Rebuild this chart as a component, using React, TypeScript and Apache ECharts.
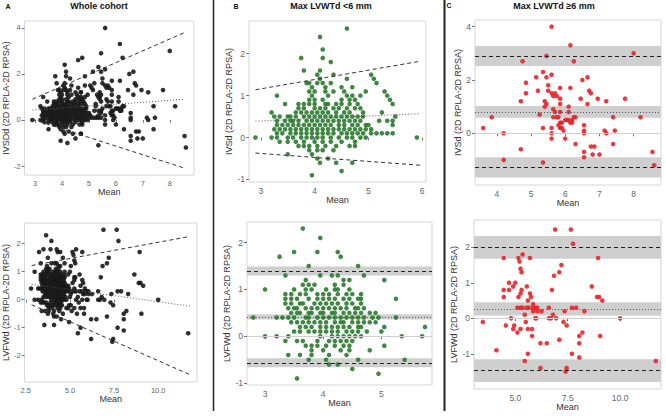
import React, { useEffect, useRef } from "react";
import * as echarts from "echarts";

type Row = [number, number[]];
type Pt = [number, number];

// Max LVWTd <6 mm : IVSd difference, rows of [difference, means...]
const bIVSdRows: Row[] = [
  [2.6, [4.6]],
  [2.4, [4.1]],
  [2.1, [4.15]],
  [1.9, [3.75, 4.15]],
  [1.8, [4.3]],
  [1.6, [3.8, 4.1]],
  [1.5, [4.05, 4.35, 5.05]],
  [1.4, [4.1, 4.6, 5.1]],
  [1.3, [3.85, 3.9, 4.05, 4.15, 4.3, 5.15]],
  [1.2, [3.95, 4.2, 4.5, 4.7]],
  [1.1, [3.9, 4.0, 4.2, 4.35, 4.55, 4.95, 5.3]],
  [1.0, [3.3, 3.95, 4.25, 4.6, 4.7, 4.85, 5.35]],
  [0.9, [3.9, 4.0, 4.15, 4.5, 4.65, 4.75, 5.4]],
  [0.8, [3.45, 3.7, 3.8, 3.9, 4.0, 4.2, 4.25, 4.4, 4.5, 4.65, 4.8, 5.45]],
  [0.7, [3.7, 3.8, 4.0, 4.1, 4.2, 4.35, 4.45, 4.6, 4.75, 4.85]],
  [0.6, [3.2, 3.65, 3.75, 3.85, 3.95, 4.05, 4.15, 4.25, 4.4, 4.55, 4.65, 4.9, 5.25]],
  [0.5, [3.25, 3.35, 3.5, 3.55, 3.65, 3.8, 3.9, 4.0, 4.1, 4.2, 4.3, 4.4, 4.5, 4.6, 4.7, 4.8, 4.9, 5.5]],
  [0.4, [3.3, 3.45, 3.55, 3.6, 3.7, 3.85, 3.95, 4.05, 4.15, 4.25, 4.35, 4.45, 4.55, 4.65, 4.75, 4.85, 5.2, 5.35, 5.45]],
  [0.3, [3.3, 3.4, 3.5, 3.6, 3.7, 3.8, 3.9, 4.0, 4.1, 4.2, 4.3, 4.45, 4.55, 4.7, 4.8, 4.95, 5.0, 5.45]],
  [0.2, [3.25, 3.35, 3.45, 3.55, 3.65, 3.75, 3.85, 3.95, 4.05, 4.15, 4.25, 4.35, 4.45, 4.55, 4.65, 4.75, 4.85, 4.95, 5.05]],
  [0.1, [3.3, 3.4, 3.55, 3.65, 3.75, 3.85, 3.95, 4.05, 4.15, 4.25, 4.35, 4.5, 4.6, 4.7, 4.8, 4.9, 5.05, 5.15, 5.25, 5.35, 5.45]],
  [0.0, [2.9, 3.2, 3.3, 3.5, 3.6, 3.75, 3.85, 3.95, 4.05, 4.15, 4.3, 4.45, 4.6, 4.7, 4.85, 4.95, 5.9]],
  [-0.1, [3.35, 3.5, 3.65, 3.8, 4.0, 4.15, 4.3, 4.5, 4.75]],
  [-0.2, [3.7, 3.8, 3.9, 4.05, 4.2, 4.4, 4.65, 4.75]],
  [-0.3, [3.9, 4.05, 4.15, 4.35]],
  [-0.4, [3.5, 3.95]],
  [-0.5, [4.05, 4.25]],
  [-0.6, [4.1, 4.4, 4.7]],
  [-0.8, [4.5]],
  [-0.9, [3.95]],
];

// Max LVWTd <6 mm : LVFWd difference
const bLVFWdRows: Row[] = [
  [2.3, [3.65]],
  [2.1, [3.95]],
  [1.8, [3.5, 3.9, 4.25]],
  [1.7, [3.25, 4.3]],
  [1.5, [3.75, 4.6]],
  [1.3, [3.35, 3.95, 4.15, 4.25, 4.7]],
  [1.2, [3.7, 4.35, 4.45, 5.05]],
  [1.1, [3.65, 3.75, 3.85, 4.2, 4.35]],
  [1.0, [3.0, 3.5, 3.7, 3.8, 4.05, 4.2, 4.25, 4.45]],
  [0.9, [3.35, 3.45, 3.6, 3.7, 3.9, 4.0, 4.1, 4.25, 4.4, 4.5, 4.65]],
  [0.8, [3.35, 3.45, 3.55, 3.75, 3.9, 4.0, 4.1, 4.2, 4.35, 4.45, 4.6, 4.65, 5.25]],
  [0.7, [3.35, 3.45, 3.6, 3.65, 3.85, 3.95, 4.05, 4.15, 4.25, 4.4, 4.5, 4.65]],
  [0.6, [3.4, 3.5, 3.55, 3.7, 3.8, 3.9, 4.0, 4.1, 4.2, 4.3, 4.4, 4.55, 4.6, 4.7]],
  [0.5, [3.45, 3.55, 3.6, 3.75, 3.8, 3.95, 4.0, 4.15, 4.2, 4.35, 4.45, 4.55, 4.65, 4.8, 4.9]],
  [0.4, [2.8, 3.2, 3.3, 3.4, 3.5, 3.7, 3.75, 3.9, 4.0, 4.1, 4.2, 4.3, 4.4, 4.5, 4.6, 4.7, 4.85, 4.95, 5.25]],
  [0.3, [3.45, 3.55, 3.65, 3.75, 3.85, 3.95, 4.05, 4.2, 4.3, 4.35, 4.5, 4.6, 4.7, 4.8, 4.9]],
  [0.2, [3.6, 3.7, 3.8, 3.95, 4.05, 4.15, 4.25, 4.35, 4.45, 4.6, 4.65, 5.05, 5.75]],
  [0.1, [3.5, 3.6, 3.75, 3.85, 3.95, 4.05, 4.15, 4.25, 4.4, 4.5, 4.6, 4.75, 5.0]],
  [0.0, [3.0, 3.2, 3.4, 3.95, 4.15, 4.25, 4.35, 4.45, 4.55, 4.65, 5.35, 5.7]],
  [-0.1, [3.35, 3.55, 3.65, 3.9, 4.1, 4.2, 4.3, 4.4, 4.5]],
  [-0.2, [3.7, 3.8, 3.9, 4.05, 4.2, 4.35, 4.45, 5.05]],
  [-0.3, [3.8, 4.0, 4.3, 4.45, 4.8]],
  [-0.4, [3.4, 3.6, 3.8, 4.1, 4.4]],
  [-0.5, [3.75, 4.05, 4.6, 5.4]],
  [-0.6, [4.1, 4.25]],
  [-0.7, [4.5]],
  [-0.8, [4.95]],
  [-0.9, [3.55]],
];

// Max LVWTd >=6 mm : IVSd [mean, difference]
const cIVSd: Pt[] = [
  [5.6, 4.0], [6.15, 3.3], [8.0, 3.0], [5.45, 2.9], [4.75, 2.7], [6.25, 2.7],
  [5.35, 2.3], [5.45, 2.1], [5.6, 2.2], [5.15, 2.1], [6.5, 2.0], [6.65, 2.1],
  [4.85, 1.9], [5.5, 1.8], [5.2, 1.6], [5.5, 1.6], [4.85, 1.5], [5.85, 1.7],
  [6.15, 1.7], [5.65, 1.4], [5.7, 1.5], [5.75, 1.4], [5.6, 1.5], [6.7, 1.6],
  [6.75, 1.5], [5.85, 1.3], [5.4, 1.2], [5.45, 1.1], [5.4, 1.0], [4.7, 1.2],
  [6.45, 1.3], [6.95, 1.3], [7.2, 1.2], [7.75, 1.3], [6.65, 1.1], [5.85, 1.1],
  [6.1, 1.0], [5.65, 0.9], [5.7, 0.8], [5.85, 0.8], [6.1, 0.8], [5.25, 0.7],
  [3.85, 0.6], [5.8, 0.6], [5.75, 0.6], [5.65, 0.6], [7.4, 0.6], [8.2, 0.6],
  [6.0, 0.5], [6.05, 0.5], [6.1, 0.5], [6.2, 0.5], [6.25, 0.6], [6.3, 0.6],
  [5.85, 0.4], [5.9, 0.4], [6.15, 0.4], [6.2, 0.4], [5.8, 0.3], [5.85, 0.2],
  [5.9, 0.2], [5.95, 0.1], [3.6, 0.2], [5.35, 0.2], [5.6, 0.2], [7.15, 0.1],
  [7.45, 0.1], [7.2, 0.0], [4.2, 0.0], [5.6, 0.0], [5.6, -0.2], [6.0, -0.2],
  [6.55, 0.0], [6.55, 0.1], [6.55, 0.3], [6.3, -0.4], [7.4, -0.4], [4.7, -0.6],
  [6.75, -0.5], [6.85, -0.5], [6.55, -0.7], [7.0, -0.8], [6.8, -0.8], [8.55, -0.7],
  [6.55, -0.9], [4.2, -1.0], [5.35, -1.1], [8.6, -1.2],
];

// Max LVWTd >=6 mm : LVFWd [mean, difference]
const cLVFWd: Pt[] = [
  [6.9, 2.5], [7.65, 2.5], [7.75, 2.1], [4.45, 1.7], [5.35, 1.8], [5.15, 1.7],
  [5.2, 1.6], [5.7, 1.7], [8.95, 1.7], [7.2, 1.5], [5.25, 1.4], [5.3, 1.3],
  [7.1, 1.3], [6.85, 1.2], [4.7, 1.0], [5.0, 1.0], [5.55, 0.9], [4.9, 0.9],
  [8.65, 0.9], [4.45, 0.8], [4.7, 0.8], [5.3, 0.8], [6.75, 0.8], [5.25, 0.7],
  [5.7, 0.7], [5.75, 0.6], [4.45, 0.6], [5.15, 0.6], [8.9, 0.6], [9.0, 0.6],
  [9.15, 0.5], [5.6, 0.5], [5.85, 0.4], [5.1, 0.3], [5.25, 0.3], [5.35, 0.3],
  [5.55, 0.3], [5.65, 0.3], [5.85, 0.3], [5.95, 0.3], [6.05, 0.3], [6.6, 0.3],
  [7.7, 0.3], [7.9, 0.3], [5.45, 0.1], [6.8, 0.1], [7.35, 0.2], [8.3, 0.2],
  [5.85, 0.2], [6.25, 0.2], [6.05, 0.2], [4.8, 0.0], [5.95, 0.0], [6.0, 0.0],
  [6.6, 0.0], [6.7, 0.0], [6.95, 0.0], [10.0, 0.0], [3.45, -0.1], [5.5, -0.1],
  [7.3, -0.1], [4.55, -0.2], [7.45, -0.2], [4.95, -0.2], [4.9, -0.3], [5.25, -0.3],
  [5.6, -0.3], [5.8, -0.3], [5.1, -0.4], [8.2, -0.4], [5.8, -0.5], [8.05, -0.5],
  [9.05, -0.5], [7.1, -0.6], [6.2, -0.7], [6.5, -0.7], [8.05, -0.7], [4.1, -0.9],
  [5.6, -1.0], [7.7, -1.0], [8.05, -1.1], [5.45, -1.2], [11.7, -1.2], [6.2, -1.4],
  [7.45, -1.4], [7.4, -1.5],
];

// Regression-based limits of agreement (endpoints): upper, mean, lower
const aIVSdUpper: Pt[] = [[2.9, 0.9], [8.57, 3.81]];
const aIVSdMean: Pt[] = [[2.9, 0.43], [8.57, 0.9]];
const aIVSdLower: Pt[] = [[2.9, 0.03], [8.57, -2.1]];
const aLVFWdUpper: Pt[] = [[2.83, 1.22], [11.8, 2.26]];
const aLVFWdMean: Pt[] = [[2.83, 0.55], [11.8, -0.23]];
const aLVFWdLower: Pt[] = [[2.83, -0.18], [11.8, -2.68]];
const bIVSdUpper: Pt[] = [[2.9, 1.14], [5.96, 1.82]];
const bIVSdMean: Pt[] = [[2.9, 0.39], [5.96, 0.57]];
const bIVSdLower: Pt[] = [[2.9, -0.37], [5.96, -0.66]];

// Constant limits of agreement: [line, ciLow, ciHigh] for upper, mean, lower
const bLVFWdLimits: [number, number, number][] = [[1.39, 1.3, 1.49], [0.41, 0.36, 0.47], [-0.57, -0.66, -0.47]];
const cIVSdLimits: [number, number, number][] = [[2.9, 2.52, 3.27], [0.8, 0.58, 1.02], [-1.27, -1.66, -0.9]];
const cLVFWdLimits: [number, number, number][] = [[2.0, 1.68, 2.32], [0.27, 0.08, 0.45], [-1.47, -1.79, -1.15]];

const xTicksA1 = [3, 4, 5, 6, 7, 8];
const xTicksA2 = [2.5, 5, 7.5, 10];
const xTicksB = [3, 4, 5, 6];
const xTicksB2 = [3, 4, 5];
const xTicksC1 = [4, 5, 6, 7, 8];
const xTicksC2 = [5, 7.5, 10];
const yTicksA1 = [-2, 0, 2, 4];
const yTicksA2 = [-2, -1, 0, 1, 2];
const yTicksB1 = [-1, 0, 1, 2];
const yTicksB2 = [-1, 0, 1, 2];
const yTicksC1 = [0, 2, 4];
const yTicksC2 = [-1, 0, 1, 2];

const rowsToPoints = (rows: Row[]): Pt[] =>
  rows.flatMap(([y, xs]) => xs.map((x) => [x, y] as Pt));

const bIVSd = rowsToPoints(bIVSdRows);
const bLVFWd = rowsToPoints(bLVFWdRows);
const aIVSd = [...bIVSd, ...cIVSd];
const aLVFWd = [...bLVFWd, ...cLVFWd];

const FONT = "Liberation Sans, Arial, sans-serif";

export default function App() {
  const ref = useRef<HTMLDivElement>(null);
  useEffect(() => {
    document.body.style.margin = "0";
    if (!ref.current) return;
    const chart = echarts.init(ref.current, undefined, { renderer: "svg" });

    const panels = [
      {
        grid: { left: 22, top: 21, width: 172, height: 154 },
        x: [2.61, 8.9], y: [-2.39, 4.3], xt: xTicksA1, yt: yTicksA1, dec: 0,
        yName: "IVSDd (2D RPLA-2D RPSA)", data: aIVSd, color: "#1a1a1a",
        reg: [aIVSdUpper, aIVSdMean, aIVSdLower], lim: null, zero: false, fs: 7.5,
      },
      {
        grid: { left: 21, top: 223, width: 176, height: 159 },
        x: [2.43, 12.2], y: [-2.94, 2.74], xt: xTicksA2, yt: yTicksA2, dec: 1,
        yName: "LVFWd (2D RPLA-2D RPSA)", data: aLVFWd, color: "#1a1a1a",
        reg: [aLVFWdUpper, aLVFWdMean, aLVFWdLower], lim: null, zero: false, fs: 7.5,
      },
      {
        grid: { left: 249, top: 21, width: 177, height: 161 },
        x: [2.78, 6.07], y: [-1.06, 2.78], xt: xTicksB, yt: yTicksB1, dec: 0,
        yName: "IVSd (2D RPLA-2D RPSA)", data: bIVSd, color: "#2a7a2e",
        reg: [bIVSdUpper, bIVSdMean, bIVSdLower], lim: null, zero: false, fs: 8.5,
      },
      {
        grid: { left: 247, top: 222, width: 185, height: 163 },
        x: [2.69, 5.87], y: [-1.04, 2.44], xt: xTicksB2, yt: yTicksB2, dec: 0,
        yName: "LVFWd (2D RPLA-2D RPSA)", data: bLVFWd, color: "#2a7a2e",
        reg: null, lim: bLVFWdLimits, zero: true, fs: 8.5,
      },
      {
        grid: { left: 475, top: 20, width: 186, height: 165 },
        x: [3.36, 8.8], y: [-1.94, 4.25], xt: xTicksC1, yt: yTicksC1, dec: 0,
        yName: "IVSd (2D RPLA-2D RPSA)", data: cIVSd, color: "#e4262b",
        reg: null, lim: cIVSdLimits, zero: true, fs: 8.5,
      },
      {
        grid: { left: 474, top: 220, width: 187, height: 169 },
        x: [3.03, 11.95], y: [-1.99, 2.77], xt: xTicksC2, yt: yTicksC2, dec: 1,
        yName: "LVFWd (2D RPLA-2D RPSA)", data: cLVFWd, color: "#e4262b",
        reg: null, lim: cLVFWdLimits, zero: true, fs: 8.5,
      },
    ];

    const grid: any[] = [];
    const xAxis: any[] = [];
    const yAxis: any[] = [];
    const series: any[] = [];

    panels.forEach((p, i) => {
      grid.push({ ...p.grid, show: true, borderColor: "#d6d6d6", borderWidth: 1, backgroundColor: "#fff" });
      const common = {
        gridIndex: i,
        type: "value",
        splitLine: { show: false },
        axisLine: { show: false },
        axisTick: { show: true, length: 3, lineStyle: { color: "#555", width: 0.8 } },
      };
      xAxis.push({
        ...common,
        min: p.x[0], max: p.x[1],
        axisTick: { ...common.axisTick, customValues: p.xt },
        axisLabel: {
          customValues: p.xt, fontSize: p.fs, color: "#666", margin: 4, fontFamily: FONT,
          formatter: (v: number) => (p.dec ? v.toFixed(1) : String(v)),
        },
        name: "Mean", nameLocation: "middle", nameGap: 10,
        nameTextStyle: { fontSize: 9, color: "#333", fontFamily: FONT },
      });
      yAxis.push({
        ...common,
        min: p.y[0], max: p.y[1],
        axisTick: { ...common.axisTick, customValues: p.yt },
        axisLabel: { customValues: p.yt, fontSize: p.fs, color: "#666", margin: 4, fontFamily: FONT },
        name: p.yName, nameLocation: "middle", nameGap: 11,
        nameTextStyle: { fontSize: 9, color: "#333", fontFamily: FONT },
      });

      if (p.lim || p.zero) {
        const markLineData: any[] = [];
        if (p.zero) markLineData.push({ yAxis: 0, lineStyle: { color: "#d0d0d0", width: 1, type: "solid" } });
        if (p.lim) {
          p.lim.forEach((l, k) => {
            markLineData.push({
              yAxis: l[0],
              lineStyle: k === 1
                ? { color: "#555", width: 1, type: [1, 2] }
                : { color: "#222", width: 1, type: [4, 3] },
            });
          });
        }
        series.push({
          type: "line",
          xAxisIndex: i, yAxisIndex: i,
          data: [],
          z: 1,
          silent: true,
          markArea: p.lim
            ? {
                silent: true,
                itemStyle: { color: "#cfcfcf" },
                data: p.lim.map((l) => [{ yAxis: l[1] }, { yAxis: l[2] }]),
              }
            : undefined,
          markLine: {
            silent: true,
            symbol: ["none", "none"],
            label: { show: false },
            data: markLineData,
          },
        });
      }

      if (p.reg) {
        p.reg.forEach((line, k) => {
          series.push({
            type: "line",
            xAxisIndex: i, yAxisIndex: i,
            data: line,
            symbol: "none",
            z: 4,
            silent: true,
            lineStyle: k === 1
              ? { color: "#555", width: 1, type: [1, 2] }
              : { color: "#333", width: 1, type: [4, 3] },
          });
        });
      }

      series.push({
        type: "scatter",
        xAxisIndex: i, yAxisIndex: i,
        data: p.data,
        symbolSize: 4.6,
        z: 3,
        itemStyle: { color: p.color, opacity: 0.9 },
      });
    });

    const text = (x: number, y: number, t: string, size: number) => ({
      type: "text",
      x, y,
      style: { text: t, font: `bold ${size}px ${FONT}`, fill: "#111", align: "center", verticalAlign: "middle" },
    });

    chart.setOption({
      animation: false,
      backgroundColor: "#fff",
      grid, xAxis, yAxis, series,
      graphic: [
        text(8, 6, "A", 7),
        text(99, 6, "Whole cohort", 9),
        text(236, 6, "B", 7),
        text(331, 6, "Max LVWTd <6 mm", 9),
        text(449, 5, "C", 7),
        text(554, 6, "Max LVWTd ≥6 mm", 9),
        { type: "line", shape: { x1: 213.5, y1: 0, x2: 213.5, y2: 411 }, style: { stroke: "#222", lineWidth: 1.5 } },
        { type: "line", shape: { x1: 444.5, y1: 0, x2: 444.5, y2: 411 }, style: { stroke: "#222", lineWidth: 2 } },
      ],
    });

    return () => chart.dispose();
  }, []);

  return <div ref={ref} style={{ width: 666, height: 419 }} />;
}
